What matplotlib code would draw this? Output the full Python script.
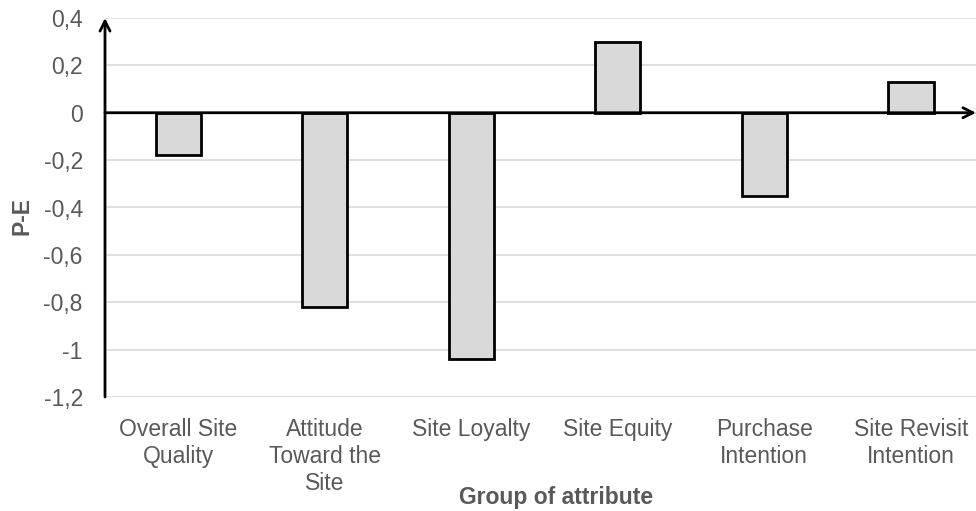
import matplotlib
matplotlib.use("Agg")
import matplotlib.pyplot as plt
import numpy as np

# Chart data.
categories = [
    "Overall Site\nQuality",
    "Attitude\nToward the\nSite",
    "Site Loyalty",
    "Site Equity",
    "Purchase\nIntention",
    "Site Revisit\nIntention",
]
p_minus_e = [-0.18, -0.82, -1.04, 0.30, -0.35, 0.13]
y_ticks = [0.4, 0.2, 0, -0.2, -0.4, -0.6, -0.8, -1, -1.2]
y_tick_labels = ["0,4", "0,2", "0", "-0,2", "-0,4", "-0,6", "-0,8", "-1", "-1,2"]

plt.rcParams["font.family"] = ["Liberation Sans", "DejaVu Sans"]

text_gray = "#595959"
grid_gray = "#d9d9d9"
font_size = 16.5

fig = plt.figure(figsize=(9.76, 5.11), dpi=100)
# Axes placed in pixels: left 105, right clipped at figure edge.
ax = fig.add_axes([105 / 976, (511 - 397) / 511, (976 - 105) / 976, (397 - 18) / 511])

x = np.arange(len(categories))
ax.bar(x, p_minus_e, width=0.31, color="#d9d9d9", edgecolor="black",
       linewidth=2, zorder=3)

ax.set_xlim(-0.5, 5.445)
ax.set_ylim(-1.2, 0.4)

ax.set_yticks(y_ticks)
ax.set_yticklabels(y_tick_labels)
ax.set_xticks(x)
ax.set_xticklabels(categories, linespacing=1.22)

ax.tick_params(axis="both", length=0, labelsize=font_size, colors=text_gray)
ax.tick_params(axis="y", pad=16)
ax.tick_params(axis="x", pad=15)

ax.grid(axis="y", color=grid_gray, linewidth=1.2, zorder=0)
ax.set_axisbelow(True)
for side in ["top", "right", "bottom", "left"]:
    ax.spines[side].set_visible(False)

# Axis lines with open arrow heads, like the reference.
ax.annotate("", xy=(-0.5, 0.4), xytext=(-0.5, -1.2),
            xycoords="data", textcoords="data",
            arrowprops=dict(arrowstyle="->", color="black", lw=2,
                            mutation_scale=18, shrinkA=0, shrinkB=0),
            annotation_clip=False, zorder=5)
ax.annotate("", xy=(5.445, 0), xytext=(-0.5, 0),
            xycoords="data", textcoords="data",
            arrowprops=dict(arrowstyle="->", color="black", lw=2,
                            mutation_scale=18, shrinkA=0, shrinkB=0),
            annotation_clip=False, zorder=5)

fig.text(22 / 976, 1 - 216 / 511, "P-E", rotation=90, ha="center", va="center",
         fontsize=font_size, fontweight="bold", color=text_gray)
fig.text(556 / 976, 1 - 497 / 511, "Group of attribute", ha="center", va="center",
         fontsize=font_size, fontweight="bold", color=text_gray)

fig.savefig("out.png", dpi=100)
